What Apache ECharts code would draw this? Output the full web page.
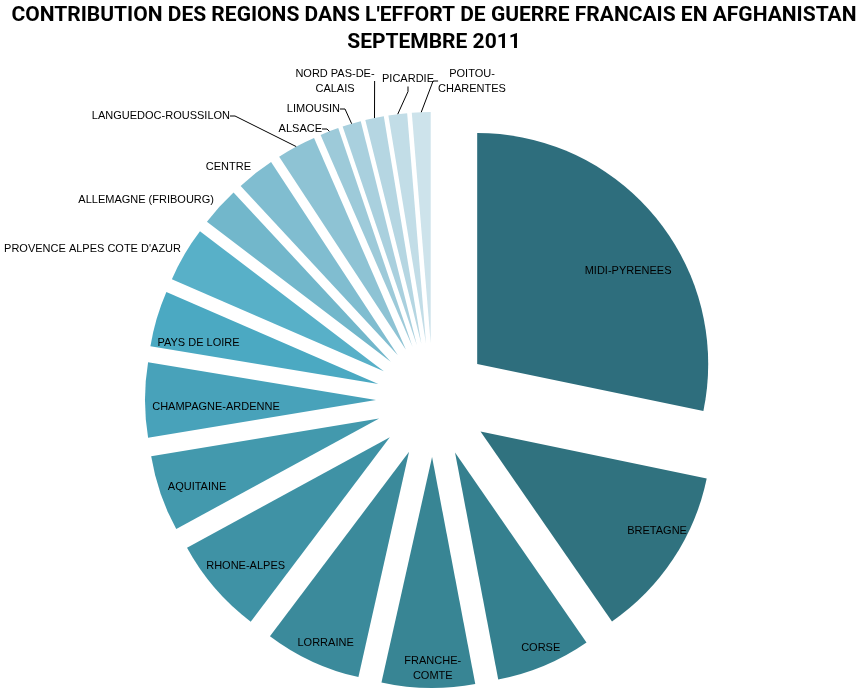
<!DOCTYPE html>
<html>
<head>
<meta charset="utf-8">
<script src="https://cdn.jsdelivr.net/npm/echarts@6/dist/echarts.min.js"></script>
<style>
html,body{margin:0;padding:0;background:#fff;}
#main{width:868px;height:694px;}
</style>
</head>
<body>
<div id="main"></div>
<script>
// regions, clockwise from 12 o'clock
var regions=['MIDI-PYRENEES','BRETAGNE','CORSE','FRANCHE-COMTE','LORRAINE','RHONE-ALPES','AQUITAINE',
	'CHAMPAGNE-ARDENNE','PAYS DE LOIRE',"PROVENCE ALPES COTE D'AZUR",'ALLEMAGNE (FRIBOURG)','CENTRE',
	'LANGUEDOC-ROUSSILON','ALSACE','LIMOUSIN','NORD PAS-DE-CALAIS','PICARDIE','POITOU-CHARENTES'];
// texte affiche (retours a la ligne comme sur l'original)
var labels=['MIDI-PYRENEES','BRETAGNE','CORSE','FRANCHE-\nCOMTE','LORRAINE','RHONE-ALPES','AQUITAINE',
	'CHAMPAGNE-ARDENNE','PAYS DE LOIRE',"PROVENCE ALPES COTE D'AZUR",'ALLEMAGNE (FRIBOURG)','CENTRE',
	'LANGUEDOC-ROUSSILON','ALSACE','LIMOUSIN','NORD PAS-DE-\nCALAIS','PICARDIE','POITOU-\nCHARENTES'];
// valeurs (estimation)
var values=[21.7,9.3,5.1,5.0,5.2,5.2,4.1,4.0,3.0,2.95,2.1,2.05,2.1,1.0,1.0,1.0,1.0,1.0];

var colors=['#2e6e7d','#30727f','#35808f','#388594','#3b8a9b','#3f92a5','#4399ad','#48a2ba','#4ba9c2',
	'#58b0c8','#72b7cb','#80bdd0','#8ec3d4','#9dcad9','#a9d0de','#b5d6e2','#c2dde7','#cde3eb'];

var cx=433, cy=400;   // centre du camembert
var R=231;            // rayon
var explode=57;       // eclatement des parts
var labelDist=258;    // distance au centre des etiquettes interieures

var nbInside=9;// les 9 premieres ont leur etiquette dans la part

// petit decalage des etiquettes interieures (comme Excel)
var insideNudge={0:[-5,34],1:[9,-11],2:[8,10],3:[4,11],4:[1,9],5:[8,-3],6:[8,3],7:[41,7],8:[13,16]};
// placement des etiquettes exterieures : [x, y, align]
var outsidePos={
	9:[181,249,'right'],
	10:[214,200,'right'],
	11:[251,167,'right'],
	12:[230,116,'right'],
	13:[322,129,'right'],
	14:[340,109,'right'],
	15:[335,81,'center'],
	16:[408,79,'center'],
	17:[472,81,'center']
};

// angle du milieu de chaque part (depuis midi, sens horaire)
var total=0;
for(var i=0;i<values.length;i++){ total+=values[i]; }
var midAngle=[];
var acc=0;
for(var i=0;i<values.length;i++){
	midAngle[i]=(acc+values[i]/2)/total*Math.PI*2;
	acc+=values[i];
}

var myChart=echarts.init(document.getElementById('main'));

var pieData=[];
var labelData=[];
for(var i=0;i<regions.length;i++){
	pieData.push({
		name:regions[i],
		value:values[i],
		selected:true,
		itemStyle:{color:colors[i]}
	});
	labelData.push({
		name:regions[i],
		value:values[i],
		label:{position:'outside',formatter:labels[i]},
		labelLine:{show:i>11}
	});
}

var option={
	animation:false,
	title:{
		text:"CONTRIBUTION DES REGIONS DANS L'EFFORT DE GUERRE FRANCAIS EN AFGHANISTAN\nSEPTEMBRE 2011",
		left:'center',
		top:2,
		padding:[0,5],
		textStyle:{fontFamily:'Roboto',fontSize:21,fontWeight:'bold',color:'#000',lineHeight:27}
	},
	series:[{
		// les parts, eclatees
		type:'pie',
		center:[cx,cy],
		radius:R,
		startAngle:90,
		clockwise:true,
		silent:true,
		selectedMode:'multiple',
		selectedOffset:explode,
		label:{show:false},
		labelLine:{show:false},
		data:pieData
	},{
		// anneau invisible qui porte les etiquettes (bord exterieur = bord des parts eclatees)
		type:'pie',
		center:[cx,cy],
		radius:[R+explode-60,R+explode],
		startAngle:90,
		clockwise:true,
		silent:true,
		z:5,
		avoidLabelOverlap:false,
		itemStyle:{color:'rgba(0,0,0,0)'},
		label:{color:'#000',fontFamily:'Liberation Sans',fontSize:11,lineHeight:15},
		labelLine:{length:10,length2:5,lineStyle:{color:'#000',width:1}},
		labelLayout:function(params){
			var i=params.dataIndex;
			var p=outsidePos[i];
			if(p){
				return {x:p[0],y:p[1],align:p[2],verticalAlign:'middle',hideOverlap:false,moveOverlap:false};
			}
			var n=insideNudge[i]||[0,0];
			var a=midAngle[i];
			return {
				x:cx+labelDist*Math.sin(a)+n[0],
				y:cy-labelDist*Math.cos(a)+n[1],
				align:'center',verticalAlign:'middle',hideOverlap:false,moveOverlap:false
			};
		},
		data:labelData
	}]
};

myChart.setOption(option);
</script>
</body>
</html>
